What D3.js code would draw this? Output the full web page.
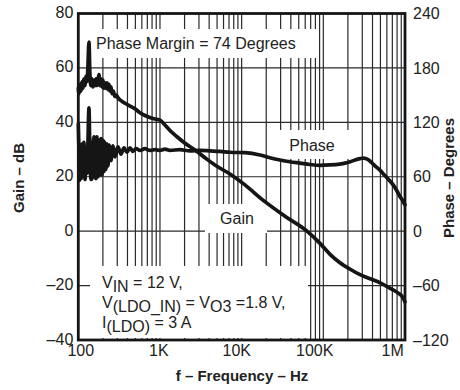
<!DOCTYPE html>
<html><head><meta charset="utf-8">
<script src="https://cdn.jsdelivr.net/npm/d3@7"></script>
<style>
html,body{margin:0;padding:0;background:#fff;}
svg{display:block;font-family:"Liberation Sans",Arial,Helvetica,sans-serif;}
</style></head>
<body>
<svg id="c" width="460" height="390"></svg>
<script>
// ---- data ----
const freqTicks = [100, 1000, 10000, 100000, 1000000];
const freqTickLabels = ["100", "1K", "10K", "100K", "1M"];
const gainTicks = [-40, -20, 0, 20, 40, 60, 80];
const phaseTicks = [-120, -60, 0, 60, 120, 180, 240];
const gridGain = [-20, 0, 20, 40, 60];

const gainFreq = [100,102,105,108,111,114,117,121,124,128,131,135,139,143,147,151,156,160,165,169,174,179,184,190,195,201,206,212,218,225,231,238,244,251,259,268,281,294,306,333,373,430,494,569,655,754,869,1000,1151,1326,1616,2023,2682,3555,4712,7193,10975,18240,33890,63160,91100,120800,158500,213200,281800,374500,496500,658800,801500,948000,1000000];
const gainDb = [52.5,50.5,54,51.5,55,52.5,56,53.5,57,55,60,69.5,57,53.5,56,53,55.5,53.5,56,53.5,55.5,57.5,53.5,56,53,55.5,52.5,54.5,52.5,54.5,52,54,51.5,53,50.5,51.5,49.5,50,49,48,47,46,45,43.5,42.5,41.8,41.2,40.8,39,37,34.7,32.3,29.8,27,24.3,21,17,11.4,5.5,0,-4.5,-8.5,-11.5,-14,-16,-17.5,-19,-21,-22.5,-24.5,-26];

const phaseFreq = [100,101.5,103,105,108,111,114,117,121,124,128,131,135,139,143,147,151,156,160,165,169,174,179,184,190,195,201,206,212,218,225,231,238,251,266,281,306,333,363,394,430,467,509,569,655,754,869,1000,1151,1326,1757,2329,3088,4093,5424,7193,10975,16750,22190,29440,39000,51850,68550,91100,120800,158500,184500,213200,244700,281800,308300,354000,396300,442600,496500,571500,658800,716000,801500,872000,948000,1000000];
const phaseDeg = [118,95,56,92,58,96,60,98,57,92,64,94,136,78,57,58,90,104,62,58,104,60,100,62,102,62,100,66,98,68,96,72,95,78,94,82,93,85,92,87,92,88,91,89,91,89,90,89,90.5,89,90,88.5,89,88.5,88,87,86.5,84,81,78.5,76.5,75,73.5,72.5,73,74,75,76.5,78.5,80,80.5,79,75,71,67,61,55,51,44,38,33,29];

const noteText = "Phase Margin = 74 Degrees";
const phaseLabel = "Phase";
const gainLabel = "Gain";
const xTitle = "f – Frequency – Hz";
const yTitleLeft = "Gain – dB";
const yTitleRight = "Phase – Degrees";

// ---- layout ----
const L = 78.3, R = 405, T = 13.5, B = 340;
const svg = d3.select("#c");
const x = d3.scaleLog().domain([100, 1e6]).range([L, R]);
const yG = d3.scaleLinear().domain([-40, 80]).range([B, T]);
const yP = d3.scaleLinear().domain([-120, 240]).range([B, T]);
const fmt = d => d < 0 ? "–" + Math.abs(d) : String(d);

const ink = "#151515", grid = "#2a2a2a";

// vertical grid lines (2..10 per decade)
const vgrid = [];
for (let e = 2; e < 6; e++) for (let m = 2; m <= 10; m++) { const v = m * Math.pow(10, e); if (v < 1e6) vgrid.push(v); }
svg.append("g").selectAll("line").data(vgrid).join("line")
  .attr("x1", d => x(d)).attr("x2", d => x(d)).attr("y1", T).attr("y2", B)
  .attr("stroke", grid).attr("stroke-width", 1.2);
svg.append("g").selectAll("line").data(gridGain).join("line")
  .attr("x1", L).attr("x2", R).attr("y1", d => yG(d)).attr("y2", d => yG(d))
  .attr("stroke", grid).attr("stroke-width", 1.2);

// label boxes (white) over grid
const boxes = [
  [93, 29, 317, 58],
  [276, 130, 349, 159],
  [205, 204, 267, 233],
  [90, 266, 308, 338]
];
svg.append("g").selectAll("rect").data(boxes).join("rect")
  .attr("x", d => d[0]).attr("y", d => d[1]).attr("width", d => d[2] - d[0]).attr("height", d => d[3] - d[1])
  .attr("fill", "#fff");

// curves
const gainLine = d3.line().x(d => x(d[0])).y(d => yG(d[1])).curve(d3.curveMonotoneX);
const phaseLine = d3.line().x(d => x(d[0])).y(d => yP(d[1])).curve(d3.curveMonotoneX);
svg.append("path").attr("d", gainLine(d3.zip(gainFreq, gainDb)))
  .attr("fill", "none").attr("stroke", ink).attr("stroke-width", 3.7).attr("stroke-linejoin", "round").attr("stroke-linecap", "round");
svg.append("path").attr("d", phaseLine(d3.zip(phaseFreq, phaseDeg)))
  .attr("fill", "none").attr("stroke", ink).attr("stroke-width", 3.7).attr("stroke-linejoin", "round").attr("stroke-linecap", "round");

// frame
svg.append("rect").attr("x", L).attr("y", T).attr("width", R - L).attr("height", B - T)
  .attr("fill", "none").attr("stroke", ink).attr("stroke-width", 2.8);

// axes
const axL = svg.append("g").attr("transform", `translate(${L},0)`)
  .call(d3.axisLeft(yG).tickValues(gainTicks).tickFormat(fmt).tickSize(0).tickPadding(5));
const axR = svg.append("g").attr("transform", `translate(${R},0)`)
  .call(d3.axisRight(yP).tickValues(phaseTicks).tickFormat(fmt).tickSize(0).tickPadding(8));
const axB = svg.append("g").attr("transform", `translate(0,${B})`)
  .call(d3.axisBottom(x).tickValues(freqTicks).tickFormat((d, i) => freqTickLabels[i]).tickSize(0).tickPadding(4));
[axL, axR, axB].forEach(a => {
  a.select(".domain").remove();
  a.selectAll("text").attr("font-size", 16).attr("fill", "#222").attr("font-family", "Liberation Sans, Arial, sans-serif");
});
axL.selectAll("text").attr("dy", "0.25em");
axB.selectAll("text").attr("dy", "0.75em").attr("dx", (d, i) => 2 - 3.7 * i);

// annotations
const txt = (xx, yy, s, opts = {}) => svg.append("text").attr("x", xx).attr("y", yy)
  .attr("font-size", opts.size || 16).attr("fill", "#222")
  .attr("font-weight", opts.weight || "normal").attr("text-anchor", opts.anchor || "start").text(s);

txt(96, 49, noteText);
txt(312, 151, phaseLabel, { anchor: "middle" });
txt(237, 224, gainLabel, { anchor: "middle" });

// conditions with subscripts
function cond(yy, parts) {
  const t = svg.append("text").attr("x", 102).attr("y", yy).attr("font-size", 16).attr("fill", "#222");
  parts.forEach(p => {
    t.append("tspan").attr("dy", p[1] ? 4 : (p[2] ? -4 : 0)).text(p[0]);
  });
}
cond(288, [["V"], ["IN", true], [" = 12 V,", false, true]]);
cond(308, [["V"], ["(LDO_IN)", true], [" = V", false, true], ["O3", true], [" =1.8 V,", false, true]]);
cond(328, [["I"], ["(LDO)", true], [" = 3 A", false, true]]);

// axis titles
txt(242, 381, xTitle, { weight: "bold", anchor: "middle", size: 15 });
svg.append("text").attr("transform", "translate(24,178) rotate(-90)").attr("text-anchor", "middle")
  .attr("font-size", 15).attr("font-weight", "bold").attr("fill", "#222").text(yTitleLeft);
svg.append("text").attr("transform", "translate(454,178) rotate(-90)").attr("text-anchor", "middle")
  .attr("font-size", 15).attr("font-weight", "bold").attr("fill", "#222").text(yTitleRight);
</script>
</body></html>
